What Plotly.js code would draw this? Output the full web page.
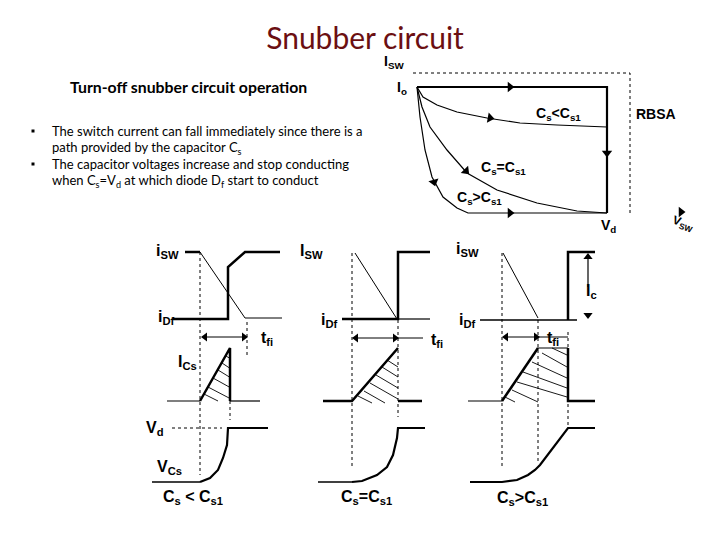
<!DOCTYPE html>
<html><head><meta charset="utf-8">
<script src="https://cdn.plot.ly/plotly-3.0.1.min.js"></script>
<style>html,body{margin:0;padding:0;background:#fff}#chart{width:720px;height:540px}</style>
</head><body><div id="chart"></div>
<script>
// ---------- text content ----------
const titleText = "Snubber circuit";
const subtitleText = "Turn-off snubber circuit operation";
const bulletLines = [
  "The switch current can fall immediately since there is a",
  "path provided by the capacitor C<sub>s</sub>",
  "The capacitor voltages increase and stop conducting",
  "when C<sub>s</sub>=V<sub>d</sub> at which diode D<sub>f</sub> start to conduct"
];
const bulletLineY = [131, 148, 164, 181];
const bulletMarkY = [131, 164];

// ---------- top diagram (I_SW vs V_SW trajectories) ----------
const frameX = [417, 607, 607];           const frameY = [87, 87, 213];
const rbsaX = [413, 630, 630];            const rbsaY = [73, 73, 213];
const curveLtX = [417,423,437,457,487,520,557,607]; const curveLtY = [87,97,105,112,118,123,125,127];
const curveEqX = [417,422,430,447,467,497,537,577,607]; const curveEqY = [87,107,127,150,173,190,203,211,213];
const curveGtX = [417,420,425,432,443,457,468,607]; const curveGtY = [87,117,150,177,197,208,213,213];
const topArrowX = [510, 490, 466, 434, 607, 510, 681];
const topArrowY = [87, 118, 171, 182, 153, 213, 212];
const topArrowAngle = [90, 100, 135, 165, 180, 90, 90];

// ---------- bottom panel 1 (Cs < Cs1) ----------
const p1SwX = [185, 200];                 const p1SwY = [252, 252];
const p1FallX = [200, 245, 282];          const p1FallY = [252, 318, 318];
const p1DfX = [173, 228, 228, 245, 280];  const p1DfY = [319, 319, 267, 252, 252];
const p1IcsThinX = [167, 200, null, 230, 260]; const p1IcsThinY = [401, 401, null, 401, 401];
const p1IcsX = [200, 230, 230];           const p1IcsY = [401, 348, 401];
const p1VbaseX = [152, 200];              const p1VbaseY = [482, 482];
const p1VcsX = [200, 210, 218, 223, 227, 228, 268]; const p1VcsY = [482, 478, 470, 458, 445, 428, 428];
const p1DotX = [200, 200, null, 247, 247, null, 230, 230, null, 172, 222];
const p1DotY = [252, 475, null, 322, 356, null, 401, 420, null, 428, 428];
const p1TfX = [203, 246];                 const p1TfY = [337, 337];
const p1HatchX = [226,231,null,222,231,null,218,231,null,213,231,null,208,231,null,204,218];
const p1HatchY = [356,359,null,363,369,null,370,378,null,378,388,null,387,399,null,394,401];

// ---------- bottom panel 2 (Cs = Cs1) ----------
const p2FallX = [355, 397];               const p2FallY = [253, 319];
const p2DfX = [342, 398, 398, 430];       const p2DfY = [319, 319, 252, 252];
const p2DfThinX = [398, 430];             const p2DfThinY = [319, 319];
const p2IcsX = [323, 352, 398, null, 398, 422]; const p2IcsY = [401, 401, 348, null, 401, 401];
const p2VbaseX = [318, 352];              const p2VbaseY = [482, 482];
const p2VcsX = [352, 362, 377, 387, 393, 397, 398, 425]; const p2VcsY = [482, 481, 475, 467, 455, 438, 428, 428];
const p2DotX = [352, 352, null, 398, 398]; const p2DotY = [253, 468, null, 320, 417];
const p2TfX = [354, 423];                 const p2TfY = [338, 338];
const p2HatchX = [387,398,null,382,398,null,376,398,null,370,398,null,364,385,null,358,372];
const p2HatchY = [360,367,null,367,377,null,375,388,null,383,399,null,391,403,null,396,403];

// ---------- bottom panel 3 (Cs > Cs1) ----------
const p3FallX = [503, 538];               const p3FallY = [253, 318];
const p3DfThinX = [480, 577];             const p3DfThinY = [320, 320];
const p3DfX = [568, 568, 595];            const p3DfY = [320, 252, 252];
const p3IcThinX = [502, 538, 568, null, 468, 502]; const p3IcThinY = [401, 348, 348, null, 401, 401];
const p3IcsX = [502, 538, null, 568, 568, 595]; const p3IcsY = [401, 348, null, 348, 401, 401];
const p3VcsX = [470, 502, 517, 528, 535, 540, 568, 595]; const p3VcsY = [482, 482, 480, 475, 470, 465, 428, 428];
const p3DotX = [502, 502, null, 538, 538, null, 568, 568]; const p3DotY = [253, 468, null, 320, 462, null, 332, 428];
const p3TfX = [504, 568];                 const p3TfY = [337, 337];
const p3IcLineX = [588, 588];             const p3IcLineY = [256, 287];
const p3HatchX = [552,567,null,542,567,null,532,567,null,523,567,null,517,567,null,512,538,null,505,515];
const p3HatchY = [348,355,null,353,367,null,362,378,null,372,388,null,382,397,null,390,402,null,397,402];

// arrowheads in the bottom panels
const botArrowX = [205, 244, 356, 395, 506, 536, 588, 588];
const botArrowY = [337, 337, 338, 338, 337, 337, 257, 315];
const botArrowAngle = [270, 90, 270, 90, 270, 90, 0, 180];

// ---------- diagram labels ----------
const topLabelText = [
  "I<sub>SW</sub>", "I<sub>o</sub>", "C<sub>s</sub><C<sub>s1</sub>", "C<sub>s</sub>=C<sub>s1</sub>",
  "C<sub>s</sub>>C<sub>s1</sub>", "RBSA", "V<sub>d</sub>"
];
const topLabelX = [394, 402, 558, 503, 479, 656, 608];
const topLabelY = [62, 88, 114, 168, 198, 114, 226];
const botLabelText = [
  "i<sub>SW</sub>", "i<sub>Df</sub>", "t<sub>fi</sub>", "I<sub>Cs</sub>", "V<sub>d</sub>", "V<sub>Cs</sub>", "C<sub>s</sub> < C<sub>s1</sub>",
  "I<sub>SW</sub>", "i<sub>Df</sub>", "t<sub>fi</sub>", "C<sub>s</sub>=C<sub>s1</sub>",
  "i<sub>SW</sub>", "i<sub>Df</sub>", "t<sub>fi</sub>", "I<sub>c</sub>", "C<sub>s</sub>>C<sub>s1</sub>"
];
const botLabelX = [167, 166, 267, 187, 155, 169, 193,
                   311, 329, 437, 366,
                   467, 467, 553, 591, 522];
const botLabelY = [251, 317, 338, 362, 428, 467, 497,
                   251, 320, 340, 497,
                   249, 320, 338, 291, 498];

// ---------- build ----------
const traces = [];
function seg(x, y, w, dash) {
  traces.push({type:'scatter', mode:'lines', x:x, y:y, hoverinfo:'skip', showlegend:false,
    line:{color:'#000', width:w, dash:dash||'solid'}});
}
seg(frameX, frameY, 2.2);
seg(rbsaX, rbsaY, 1, 'dot');
seg(curveLtX, curveLtY, 1.2, 'solid');
seg(curveEqX, curveEqY, 1.2);
seg(curveGtX, curveGtY, 1.2);

seg(p1SwX, p1SwY, 2.5); seg(p1FallX, p1FallY, 1); seg(p1DfX, p1DfY, 2.5);
seg(p1IcsThinX, p1IcsThinY, 1.2); seg(p1IcsX, p1IcsY, 2.5);
seg(p1VbaseX, p1VbaseY, 1.6); seg(p1VcsX, p1VcsY, 2.2);
seg(p1DotX, p1DotY, 1, 'dot'); seg(p1TfX, p1TfY, 1); seg(p1HatchX, p1HatchY, 0.9);

seg(p2FallX, p2FallY, 1); seg(p2DfX, p2DfY, 2.5); seg(p2DfThinX, p2DfThinY, 1.2);
seg(p2IcsX, p2IcsY, 2.5); seg(p2VbaseX, p2VbaseY, 1.4); seg(p2VcsX, p2VcsY, 2.2);
seg(p2DotX, p2DotY, 1, 'dot'); seg(p2TfX, p2TfY, 1); seg(p2HatchX, p2HatchY, 0.9);

seg(p3FallX, p3FallY, 1); seg(p3DfThinX, p3DfThinY, 1.4); seg(p3DfX, p3DfY, 2.5);
seg(p3IcThinX, p3IcThinY, 1.2); seg(p3IcsX, p3IcsY, 2.5); seg(p3VcsX, p3VcsY, 2.2);
seg(p3DotX, p3DotY, 1, 'dot'); seg(p3TfX, p3TfY, 1); seg(p3IcLineX, p3IcLineY, 1.2);
seg(p3HatchX, p3HatchY, 0.9);

traces.push({type:'scatter', mode:'markers', x:topArrowX, y:topArrowY, hoverinfo:'skip', showlegend:false,
  marker:{symbol:'triangle-up', size:9, color:'#000', angle:topArrowAngle}});
traces.push({type:'scatter', mode:'markers', x:botArrowX, y:botArrowY, hoverinfo:'skip', showlegend:false,
  marker:{symbol:'triangle-up', size:8, color:'#000', angle:botArrowAngle}});
traces.push({type:'scatter', mode:'markers', x:[33,33], y:bulletMarkY, hoverinfo:'skip', showlegend:false,
  marker:{symbol:'square', size:3, color:'#000'}});

const annotations = [];
annotations.push({x:68, y:86, xref:'x', yref:'y', xanchor:'left', yanchor:'middle', showarrow:false,
  text:'<b>'+subtitleText+'</b>', font:{family:'Lato, sans-serif', size:15.8, color:'#000'}});
bulletLines.forEach((t,i)=>annotations.push({x:50, y:bulletLineY[i], xref:'x', yref:'y', xanchor:'left', yanchor:'middle',
  showarrow:false, text:t, font:{family:'Lato, sans-serif', size:13, color:'#000'}}));
topLabelText.forEach((t,i)=>annotations.push({x:topLabelX[i], y:topLabelY[i], xref:'x', yref:'y', xanchor:'center', yanchor:'middle',
  showarrow:false, text:'<b>'+t+'</b>', font:{family:'Liberation Sans, Arial, sans-serif', size:14, color:'#000'}}));
botLabelText.forEach((t,i)=>annotations.push({x:botLabelX[i], y:botLabelY[i], xref:'x', yref:'y', xanchor:'center', yanchor:'middle',
  showarrow:false, text:'<b>'+t+'</b>', font:{family:'Liberation Sans, Arial, sans-serif', size:16, color:'#000'}}));
annotations.push({x:683, y:224, xref:'x', yref:'y', xanchor:'center', yanchor:'middle', showarrow:false, textangle:20,
  text:'<b>V<sub>SW</sub></b>', font:{family:'Liberation Sans, Arial, sans-serif', size:12, color:'#000'}});

const layout = {
  width:720, height:540, margin:{l:0,r:0,t:0,b:0},
  paper_bgcolor:'#fff', plot_bgcolor:'#fff',
  title:{text:titleText, x:0.507, xanchor:'center', xref:'paper', y:1-38/540, yanchor:'middle',
    font:{family:'Lato, sans-serif', size:30, color:'#6b0f12'}},
  xaxis:{range:[0,720], visible:false, fixedrange:true},
  yaxis:{range:[540,0], visible:false, fixedrange:true},
  annotations:annotations, showlegend:false
};
Plotly.newPlot('chart', traces, layout, {displayModeBar:false, staticPlot:true});
</script></body></html>
